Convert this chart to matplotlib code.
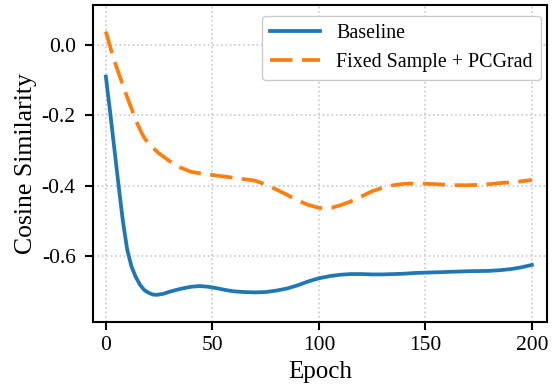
import matplotlib
matplotlib.use("Agg")
import matplotlib.pyplot as plt

plt.rcParams['font.family'] = ['Liberation Serif', 'DejaVu Serif']
plt.rcParams['axes.unicode_minus'] = False

# Baseline curve
base_epoch = [0, 2, 4, 6, 8, 10, 12, 14, 16, 18, 20, 22, 24, 27, 30, 35, 40, 44, 48,
              52, 56, 60, 65, 70, 75, 80, 85, 90, 95, 100, 105, 110, 115, 120, 125,
              130, 135, 140, 145, 150, 160, 170, 180, 185, 190, 195, 200]
base_cos = [-0.09, -0.19, -0.295, -0.40, -0.50, -0.58, -0.628, -0.658, -0.68, -0.695,
            -0.703, -0.708, -0.709, -0.706, -0.700, -0.692, -0.686, -0.684, -0.686,
            -0.690, -0.695, -0.699, -0.701, -0.702, -0.701, -0.697, -0.691, -0.682,
            -0.671, -0.662, -0.656, -0.652, -0.650, -0.650, -0.651, -0.651, -0.650,
            -0.649, -0.647, -0.646, -0.644, -0.642, -0.641, -0.639, -0.636, -0.631, -0.624]

# Fixed Sample + PCGrad curve
pc_epoch = [0, 2, 4, 6, 8, 10, 12, 14, 16, 18, 20, 25, 30, 35, 40, 45, 50, 55, 60, 65,
            70, 75, 80, 85, 90, 95, 100, 103, 106, 110, 115, 120, 125, 130, 135, 140,
            145, 150, 155, 160, 165, 170, 175, 180, 185, 190, 195, 200]
pc_cos = [0.038, -0.005, -0.045, -0.08, -0.115, -0.148, -0.18, -0.212, -0.24, -0.263,
          -0.28, -0.308, -0.33, -0.348, -0.36, -0.365, -0.369, -0.373, -0.377, -0.381,
          -0.385, -0.396, -0.41, -0.425, -0.441, -0.454, -0.462, -0.464, -0.462, -0.455,
          -0.444, -0.43, -0.415, -0.405, -0.398, -0.394, -0.393, -0.394, -0.395, -0.397,
          -0.398, -0.398, -0.397, -0.395, -0.392, -0.39, -0.387, -0.383]

xticks = [0, 50, 100, 150, 200]
yticks = [0.0, -0.2, -0.4, -0.6]

fig = plt.figure(figsize=(5.54, 3.88), dpi=100)
ax = fig.add_axes([0.168, 0.171, 0.819, 0.816])

ax.plot(base_epoch, base_cos, color='#1f77b4', lw=2.7, label='Baseline')
ax.plot(pc_epoch, pc_cos, color='#ff7f0e', lw=2.7, dashes=(6, 2.5),
        label='Fixed Sample + PCGrad')

ax.set_xlim(-6, 207)
ax.set_ylim(-0.785, 0.113)
ax.set_xticks(xticks)
ax.set_yticks(yticks)
ax.set_yticklabels(['%.1f' % v for v in yticks])
ax.tick_params(labelsize=15.5, length=5.5, width=1.5, direction='out')
ax.tick_params(axis='y', pad=7)
ax.tick_params(axis='x', pad=5)
for s in ax.spines.values():
    s.set_linewidth(1.5)
ax.grid(True, linestyle=':', color='#c8c8c8', lw=1.2)

ax.set_xlabel('Epoch', fontsize=18, labelpad=4)
ax.set_ylabel('Cosine Similarity', fontsize=18.5, labelpad=3.5)
ax.legend(loc='upper right', bbox_to_anchor=(0.987, 0.966), borderaxespad=0,
          fontsize=14.4, framealpha=1, edgecolor='#cccccc',
          handlelength=2.5, handletextpad=0.8)

fig.savefig('out.png', dpi=100)
